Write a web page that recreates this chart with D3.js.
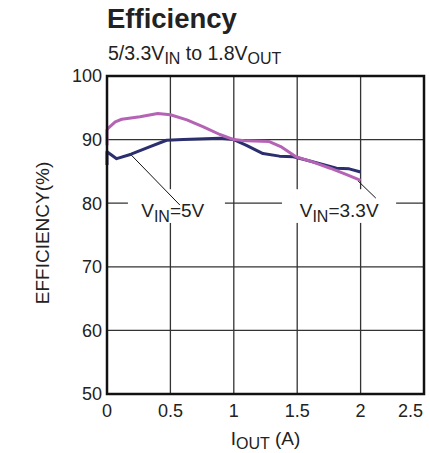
<!DOCTYPE html>
<html>
<head>
<meta charset="utf-8">
<script src="https://cdn.jsdelivr.net/npm/d3@7"></script>
<style>
  body { margin: 0; background: #fff; }
  text { font-family: "Liberation Sans", Arial, sans-serif; fill: #222; }
</style>
</head>
<body>
<script>
// data
var iout5 = [0, 0, 0.076, 0.19, 0.34, 0.47, 0.6, 0.89, 1.0, 1.10, 1.23, 1.36, 1.47, 1.57, 1.68, 1.81, 1.91, 2.0];
var eff5  = [86.0, 88.1, 87.0, 87.7, 88.9, 89.9, 90.0, 90.2, 90.0, 89.1, 87.8, 87.4, 87.3, 86.8, 86.2, 85.5, 85.4, 84.9];

var iout33 = [0, 0, 0.01, 0.065, 0.116, 0.26, 0.40, 0.50, 0.63, 0.76, 0.89, 1.0, 1.10, 1.28, 1.37, 1.49, 1.62, 1.76, 1.89, 2.0];
var eff33  = [89.1, 91.5, 91.8, 92.8, 93.2, 93.6, 94.1, 93.9, 93.1, 92.0, 90.8, 90.0, 89.8, 89.7, 88.9, 87.3, 86.5, 85.5, 84.5, 83.6];

var xTicks = [0, 0.5, 1, 1.5, 2, 2.5];
var xTickLabels = ["0", "0.5", "1", "1.5", "2", "2.5"];
var yTicks = [50, 60, 70, 80, 90, 100];

var svgWidth = 430;
var svgHeight = 453;
var margin = { top: 76, right: 6, bottom: 59, left: 107 };
var width = svgWidth - margin.left - margin.right;
var height = svgHeight - margin.top - margin.bottom;

var svg = d3.select("body").append("svg")
  .attr("width", svgWidth)
  .attr("height", svgHeight);

// title
svg.append("text")
  .attr("x", 107).attr("y", 28)
  .style("font-size", "27.5px").style("font-weight", "bold")
  .text("Efficiency");

var sub = svg.append("text")
  .attr("x", 108).attr("y", 60)
  .style("font-size", "19.5px");
sub.append("tspan").text("5/3.3V");
sub.append("tspan").attr("dy", 4).style("font-size", "16px").text("IN");
sub.append("tspan").attr("dy", -4).text(" to 1.8V");
sub.append("tspan").attr("dy", 4).style("font-size", "16px").text("OUT");

var chart = svg.append("g")
  .attr("transform", `translate(${margin.left}, ${margin.top})`);

var x = d3.scaleLinear().domain([0, 2.5]).range([0, width]);
var y = d3.scaleLinear().domain([50, 100]).range([height, 0]);

// grid
chart.selectAll(".vgrid")
  .data(xTicks.slice(1, -1))
  .enter().append("line")
  .attr("x1", d => x(d)).attr("x2", d => x(d))
  .attr("y1", 0).attr("y2", height)
  .attr("stroke", "#333").attr("stroke-width", 1.3);

chart.selectAll(".hgrid")
  .data(yTicks.slice(1, -1))
  .enter().append("line")
  .attr("x1", 0).attr("x2", width)
  .attr("y1", d => y(d)).attr("y2", d => y(d))
  .attr("stroke", "#333").attr("stroke-width", 1.3);

// white boxes behind the curve labels
var boxes = [[0.165, 0.93], [1.38, 2.28]];
chart.selectAll(".box")
  .data(boxes)
  .enter().append("rect")
  .attr("x", d => x(d[0]))
  .attr("width", d => x(d[1]) - x(d[0]))
  .attr("y", y(82.2))
  .attr("height", y(76.9) - y(82.2))
  .attr("fill", "#fff");

// leader lines
var leaders = [[0.19, 87.6, 0.575, 79.7], [1.98, 83.5, 2.12, 80.8]];
chart.selectAll(".leader")
  .data(leaders)
  .enter().append("line")
  .attr("x1", d => x(d[0])).attr("y1", d => y(d[1]))
  .attr("x2", d => x(d[2])).attr("y2", d => y(d[3]))
  .attr("stroke", "#111").attr("stroke-width", 1);

// curves
var line = d3.line()
  .x(d => x(d[0]))
  .y(d => y(d[1]));

chart.append("path")
  .datum(iout5.map((d, i) => [d, eff5[i]]))
  .attr("d", line)
  .attr("fill", "none")
  .attr("stroke", "#2c2f6e")
  .attr("stroke-width", 3)
  .attr("stroke-linejoin", "round");

chart.append("path")
  .datum(iout33.map((d, i) => [d, eff33[i]]))
  .attr("d", line)
  .attr("fill", "none")
  .attr("stroke", "#b564b5")
  .attr("stroke-width", 3)
  .attr("stroke-linejoin", "round");

// curve labels
var labels = [{ x: 0.27, t: "5V" }, { x: 1.52, t: "3.3V" }];
labels.forEach(function(l) {
  var t = chart.append("text")
    .attr("x", x(l.x)).attr("y", y(77.8))
    .style("font-size", "19px");
  t.append("tspan").text("V");
  t.append("tspan").attr("dy", 5).style("font-size", "16px").text("IN");
  t.append("tspan").attr("dy", -5).text("=" + l.t);
});

// frame
chart.append("rect")
  .attr("x", 0).attr("y", 0)
  .attr("width", width).attr("height", height)
  .attr("fill", "none")
  .attr("stroke", "#111").attr("stroke-width", 2.5);

// tick labels
chart.selectAll(".xlab")
  .data(xTicks)
  .enter().append("text")
  .attr("x", d => d === 2.5 ? x(d) - 1 : x(d))
  .attr("y", height + 23)
  .attr("text-anchor", d => d === 2.5 ? "end" : "middle")
  .style("font-size", "18px")
  .text((d, i) => xTickLabels[i]);

chart.selectAll(".ylab")
  .data(yTicks)
  .enter().append("text")
  .attr("x", -5)
  .attr("y", d => y(d))
  .attr("dy", "0.36em")
  .attr("text-anchor", "end")
  .style("font-size", "18px")
  .text(d => d);

// axis titles
var xt = svg.append("text")
  .attr("x", margin.left + width / 2).attr("y", 445)
  .attr("text-anchor", "middle")
  .style("font-size", "19px");
xt.append("tspan").text("I");
xt.append("tspan").attr("dy", 4).style("font-size", "16px").text("OUT");
xt.append("tspan").attr("dy", -4).text(" (A)");

svg.append("text")
  .attr("transform", "translate(49, 233) rotate(-90)")
  .attr("text-anchor", "middle")
  .style("font-size", "19px")
  .text("EFFICIENCY(%)");
</script>
</body>
</html>
